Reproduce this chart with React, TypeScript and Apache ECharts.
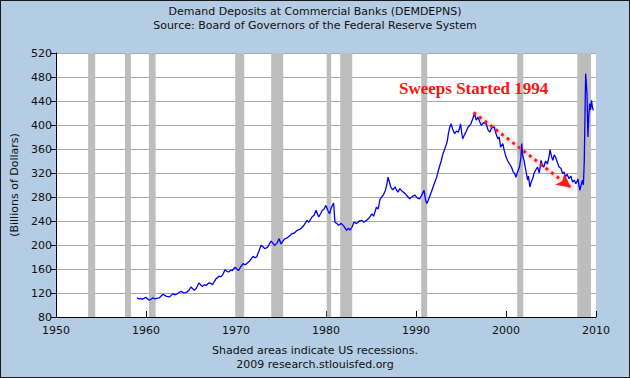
import React, { useEffect, useRef } from "react";
import * as echarts from "echarts";

const titleMain = "Demand Deposits at Commercial Banks (DEMDEPNS)";
const titleSource = "Source: Board of Governors of the Federal Reserve System";
const footer1 = "Shaded areas indicate US recessions.";
const footer2 = "2009 research.stlouisfed.org";
const yAxisName = "(Billions of Dollars)";
const annotation = "Sweeps Started 1994";

const years: number[] = [
  1959.0, 1959.2, 1959.4, 1959.55, 1959.8, 1960.0, 1960.2, 1960.35, 1960.6, 1960.8,
  1961.0, 1961.2, 1961.5, 1961.7, 1961.9, 1962.1, 1962.3, 1962.6, 1962.8, 1963.0,
  1963.2, 1963.4, 1963.6, 1963.9, 1964.1, 1964.3, 1964.6, 1964.8, 1965.0, 1965.2,
  1965.4, 1965.6, 1965.9, 1966.1, 1966.3, 1966.5, 1966.7, 1967.0, 1967.2, 1967.4,
  1967.6, 1967.8, 1968.0, 1968.1, 1968.3, 1968.5, 1968.8, 1969.0, 1969.2, 1969.4,
  1969.6, 1969.9, 1970.1, 1970.3, 1970.5, 1970.8, 1971.0, 1971.2, 1971.5, 1971.7,
  1971.9, 1972.1, 1972.3, 1972.5, 1972.8, 1973.0, 1973.2, 1973.5, 1973.7, 1973.9,
  1974.1, 1974.3, 1974.6, 1974.8, 1975.0, 1975.2, 1975.4, 1975.7, 1976.0, 1976.25,
  1976.5, 1976.8, 1977.1, 1977.4, 1977.6, 1977.9, 1978.1, 1978.45, 1978.7, 1978.9,
  1979.2, 1979.4, 1979.6, 1979.8, 1980.0, 1980.2, 1980.4, 1980.6, 1980.85, 1981.0,
  1981.2, 1981.4, 1981.7, 1982.0, 1982.3, 1982.5, 1982.7, 1982.9, 1983.1, 1983.4,
  1983.7, 1984.0, 1984.2, 1984.5, 1984.8, 1985.1, 1985.3, 1985.6, 1985.8, 1986.0,
  1986.2, 1986.4, 1986.6, 1986.75, 1986.9, 1987.05, 1987.2, 1987.4, 1987.7, 1987.85,
  1988.0, 1988.2, 1988.5, 1988.8, 1989.0, 1989.3, 1989.6, 1989.9, 1990.1, 1990.4,
  1990.6, 1990.9, 1991.05, 1991.2, 1991.35, 1991.5, 1991.7, 1991.9, 1992.1, 1992.3,
  1992.45, 1992.6, 1992.8, 1993.0, 1993.2, 1993.4, 1993.5, 1993.6, 1993.75, 1993.9,
  1994.1, 1994.3, 1994.5, 1994.7, 1994.85, 1994.95, 1995.1, 1995.2, 1995.4, 1995.6,
  1995.8, 1996.0, 1996.1, 1996.3, 1996.5, 1996.7, 1996.9, 1997.1, 1997.25, 1997.5,
  1997.8, 1998.0, 1998.2, 1998.4, 1998.7, 1998.9, 1999.1, 1999.25, 1999.4, 1999.65,
  1999.8, 2000.0, 2000.2, 2000.4, 2000.6, 2000.8, 2001.0, 2001.1, 2001.3, 2001.5,
  2001.65, 2001.75, 2001.85, 2002.0, 2002.2, 2002.4, 2002.5, 2002.65, 2002.8, 2003.0,
  2003.1, 2003.3, 2003.5, 2003.7, 2003.9, 2004.05, 2004.2, 2004.4, 2004.6, 2004.75,
  2004.9, 2005.05, 2005.2, 2005.35, 2005.5, 2005.7, 2005.9, 2006.1, 2006.3, 2006.45,
  2006.6, 2006.8, 2007.0, 2007.2, 2007.4, 2007.6, 2007.75, 2007.9, 2008.0, 2008.2,
  2008.35, 2008.5, 2008.6, 2008.7, 2008.78, 2008.85, 2008.92, 2009.0, 2009.1, 2009.2,
  2009.3, 2009.4, 2009.5, 2009.6, 2009.7,
];

const deposits: number[] = [
  112, 110, 111, 109.5, 111, 113, 110, 108, 110, 112,
  110, 111, 112, 115, 118, 116, 114.5, 113.5, 116, 119,
  117, 118, 120, 123, 121, 120, 122, 125, 130, 127,
  124.5, 128, 137, 133, 131, 134, 132.5, 137, 136, 134,
  139, 144, 146, 148, 147, 149.5, 159, 156, 155, 158,
  157.5, 163, 160, 157.5, 163, 169, 167, 169, 173, 177,
  181, 179, 180, 188, 199.5, 197, 194, 196, 201, 206.7,
  203, 199, 204, 210.6, 201.7, 206, 210, 212, 216, 219,
  220, 224.5, 226, 230, 234, 241, 238, 246.7, 250, 258,
  246.7, 252, 258, 260, 266, 258, 252, 262, 270, 238,
  236, 233, 236, 231, 224.5, 228, 225, 230, 238, 236,
  240, 241, 238, 241, 245, 252, 248, 263, 260, 275.6,
  280, 284, 291, 300, 313, 305, 296.7, 292, 296.7, 291,
  288, 294, 289, 285.6, 282, 277, 281, 283, 279, 277,
  282, 291, 276, 269, 274, 280, 288, 296.7, 305, 313,
  322, 330, 340, 352, 360, 369, 375, 385.6, 396, 402,
  392, 385.6, 390, 388, 395, 402, 385, 377, 384, 390,
  396.7, 400, 402, 410, 419, 408, 413, 405, 399.5, 404,
  402, 392, 388, 395, 396.7, 385, 377, 380, 363, 369,
  358, 347, 340, 335, 330, 322, 318, 313, 322, 330,
  345, 369, 350, 341, 325, 308, 315, 296.7, 305, 312,
  319, 325, 330, 320, 341, 332, 330, 340, 335, 345,
  359, 348, 341, 350, 347, 338, 330, 328, 319, 322,
  313, 318, 310.5, 315, 305, 308, 302, 306, 310, 291,
  300, 308, 300, 341, 420, 485.6, 470, 452, 380, 415,
  435.6, 425, 441, 430, 424.5,
];

const recessionStarts: number[] = [1953.58, 1957.67, 1960.33, 1969.92, 1973.92, 1980.08, 1981.58, 1990.58, 2001.25, 2007.92];
const recessionEnds: number[] = [1954.37, 1958.33, 1961.08, 1970.92, 1975.25, 1980.58, 1982.92, 1991.25, 2001.92, 2009.45];

const arrowStart: [number, number] = [1996.4, 421];
const arrowEnd: [number, number] = [2007.2, 296];

const xTicks = { min: 1950, max: 2010, interval: 10 };
const yTicks = { min: 80, max: 520, interval: 40 };

export default function App() {
  const ref = useRef<HTMLDivElement>(null);

  useEffect(() => {
    if (!ref.current) return;
    const chart = echarts.init(ref.current, null, { renderer: "svg" });
    const font = "DejaVu Sans, Verdana, sans-serif";
    const seriesData = years.map((y, i) => [y, deposits[i]]);
    const areas = recessionStarts.map((s, i) => [{ xAxis: s }, { xAxis: recessionEnds[i] }]);
    const ts = { fontFamily: font, fontSize: 11, fontWeight: "normal", color: "#111" };

    chart.setOption({
      animation: false,
      backgroundColor: "#b4cce4",
      title: [
        { text: titleMain, left: "center", top: 5, padding: 0, textStyle: ts },
        { text: titleSource, left: "center", top: 19, padding: 0, textStyle: ts },
        { text: footer1, left: "center", top: 344, padding: 0, textStyle: ts },
        { text: footer2, left: "center", top: 358, padding: 0, textStyle: ts },
      ],
      grid: { left: 51, right: 33, top: 52, bottom: 60, backgroundColor: "#ffffff", show: true, borderWidth: 0 },
      xAxis: {
        type: "value",
        min: xTicks.min,
        max: xTicks.max,
        interval: xTicks.interval,
        axisLine: { show: true, lineStyle: { color: "#000", width: 1 } },
        axisTick: { show: true, inside: true, length: 6, lineStyle: { color: "#000" } },
        axisLabel: { fontFamily: font, fontSize: 11, color: "#111", margin: 8, formatter: (v: number) => String(v) },
        splitLine: { show: false },
      },
      yAxis: {
        type: "value",
        min: yTicks.min,
        max: yTicks.max,
        interval: yTicks.interval,
        name: yAxisName,
        nameLocation: "middle",
        nameRotate: 90,
        nameGap: 33,
        nameTextStyle: { fontFamily: font, fontSize: 11, color: "#111" },
        axisLine: { show: true, lineStyle: { color: "#000", width: 1 } },
        axisTick: { show: true, inside: false, length: 5, lineStyle: { color: "#000" } },
        axisLabel: { fontFamily: font, fontSize: 11, color: "#111", margin: 4 },
        splitLine: { show: true, lineStyle: { color: "#aaaaaa", width: 1 } },
      },
      series: [
        {
          type: "line",
          data: seriesData,
          showSymbol: false,
          symbol: "none",
          lineStyle: { color: "#0000ff", width: 1.3 },
          markArea: {
            silent: true,
            itemStyle: { color: "#bdbdbd", opacity: 1 },
            data: areas,
          },
          markLine: {
            silent: true,
            symbol: ["none", "arrow"],
            symbolSize: [11, 14],
            label: { show: false },
            lineStyle: {
              color: "#ff1a1a",
              width: 3,
              type: [3, 4],
              shadowColor: "rgba(0,0,0,0.45)",
              shadowBlur: 4,
              shadowOffsetX: 2,
              shadowOffsetY: 2,
            },
            data: [[{ coord: arrowStart }, { coord: arrowEnd }]],
          },
          z: 3,
        },
      ],
      graphic: [
        {
          type: "text",
          left: 398,
          top: 79,
          style: {
            text: annotation,
            fill: "#ff1111",
            font: "bold 17px 'Liberation Serif', 'Times New Roman', serif",
            shadowColor: "rgba(0,0,0,0.35)",
            shadowBlur: 2,
            shadowOffsetX: 1,
            shadowOffsetY: 1,
          },
          z: 10,
        },
      ],
    });
    return () => chart.dispose();
  }, []);

  return (
    <div
      style={{
        position: "fixed",
        left: 0,
        top: 0,
        width: 630,
        height: 378,
        boxSizing: "border-box",
        border: "1px solid #1a1a1a",
        background: "#b4cce4",
      }}
    >
      <div ref={ref} style={{ width: 628, height: 376 }} />
    </div>
  );
}
